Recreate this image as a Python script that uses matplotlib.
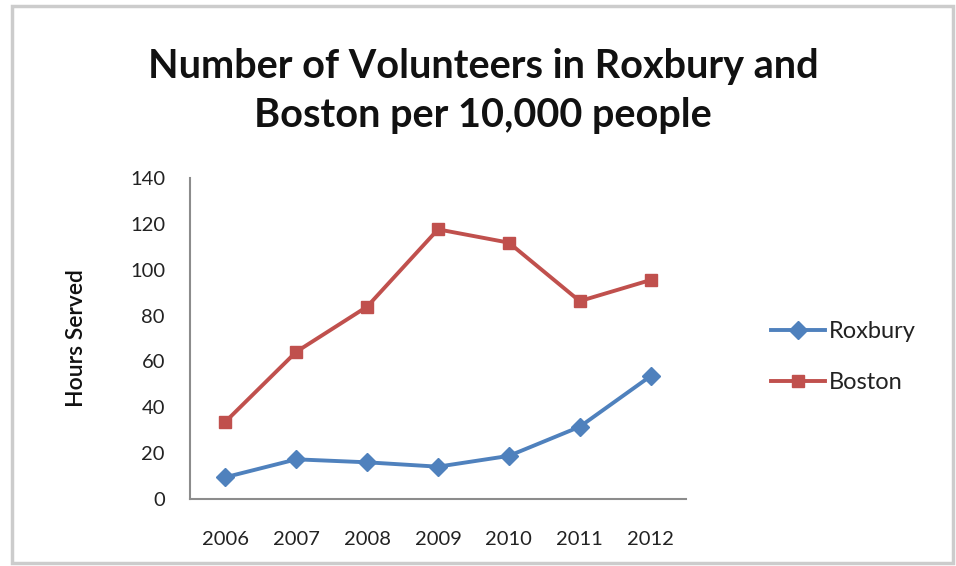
"""
Voluntarios en Roxbury y Boston por cada 10.000 personas
"""

import matplotlib
matplotlib.use('Agg')
import matplotlib.pyplot as plt
from matplotlib.patches import Rectangle

plt.rcParams['font.family'] = ['Lato', 'DejaVu Sans']

years = ['2006', '2007', '2008', '2009', '2010', '2011', '2012']
roxbury = [9.5, 17.3, 16, 14.1, 18.8, 31.5, 53.6]
boston = [33.7, 64.2, 83.9, 117.6, 111.8, 86.3, 95.5]
y_ticks = [0, 20, 40, 60, 80, 100, 120, 140]

fig = plt.figure(figsize=(9.56, 5.66), dpi=100)
ax = fig.add_axes([190 / 956, 1 - 499 / 566, 496 / 956, 321 / 566])

x = range(len(years))
ax.plot(x, roxbury, color='#4F81BD', linewidth=2.8, marker='D',
        markersize=9, label='Roxbury')
ax.plot(x, boston, color='#C0504D', linewidth=2.8, marker='s',
        markersize=8.5, label='Boston')

ax.set_xlim(-0.5, len(years) - 0.5)
ax.set_ylim(0, 140)
ax.set_yticks(y_ticks)
ax.set_xticks(list(x))
ax.set_xticklabels(years)
ax.tick_params(length=0, labelsize=14.5, colors='#222222')
ax.tick_params(axis='x', pad=23)
ax.tick_params(axis='y', pad=18)

for side in ['top', 'right']:
    ax.spines[side].set_visible(False)
for side in ['left', 'bottom']:
    ax.spines[side].set_color('#8c8c8c')
    ax.spines[side].set_linewidth(1.5)

ax.set_ylabel('Hours Served', fontsize=16.5, fontweight='semibold',
              color='#111111', labelpad=31)

fig.text(483 / 956, 1 - 91 / 566,
         'Number of Volunteers in Roxbury and\nBoston per 10,000 people',
         ha='center', va='center', fontsize=28.5, fontweight='bold',
         linespacing=1.38, color='#111111')

ax.legend(loc='center left', bbox_to_anchor=(1.128, 0.442), frameon=False,
          fontsize=17, handlelength=2.3, handletextpad=0.15,
          labelspacing=1.3, labelcolor='#222222')

# borde gris del área del gráfico
fig.patches.append(Rectangle((12 / 956, 3 / 566), 941 / 956, 557 / 566,
                             transform=fig.transFigure, fill=False,
                             edgecolor='#cccccc', linewidth=2.5))

fig.savefig('out.png', dpi=100)
